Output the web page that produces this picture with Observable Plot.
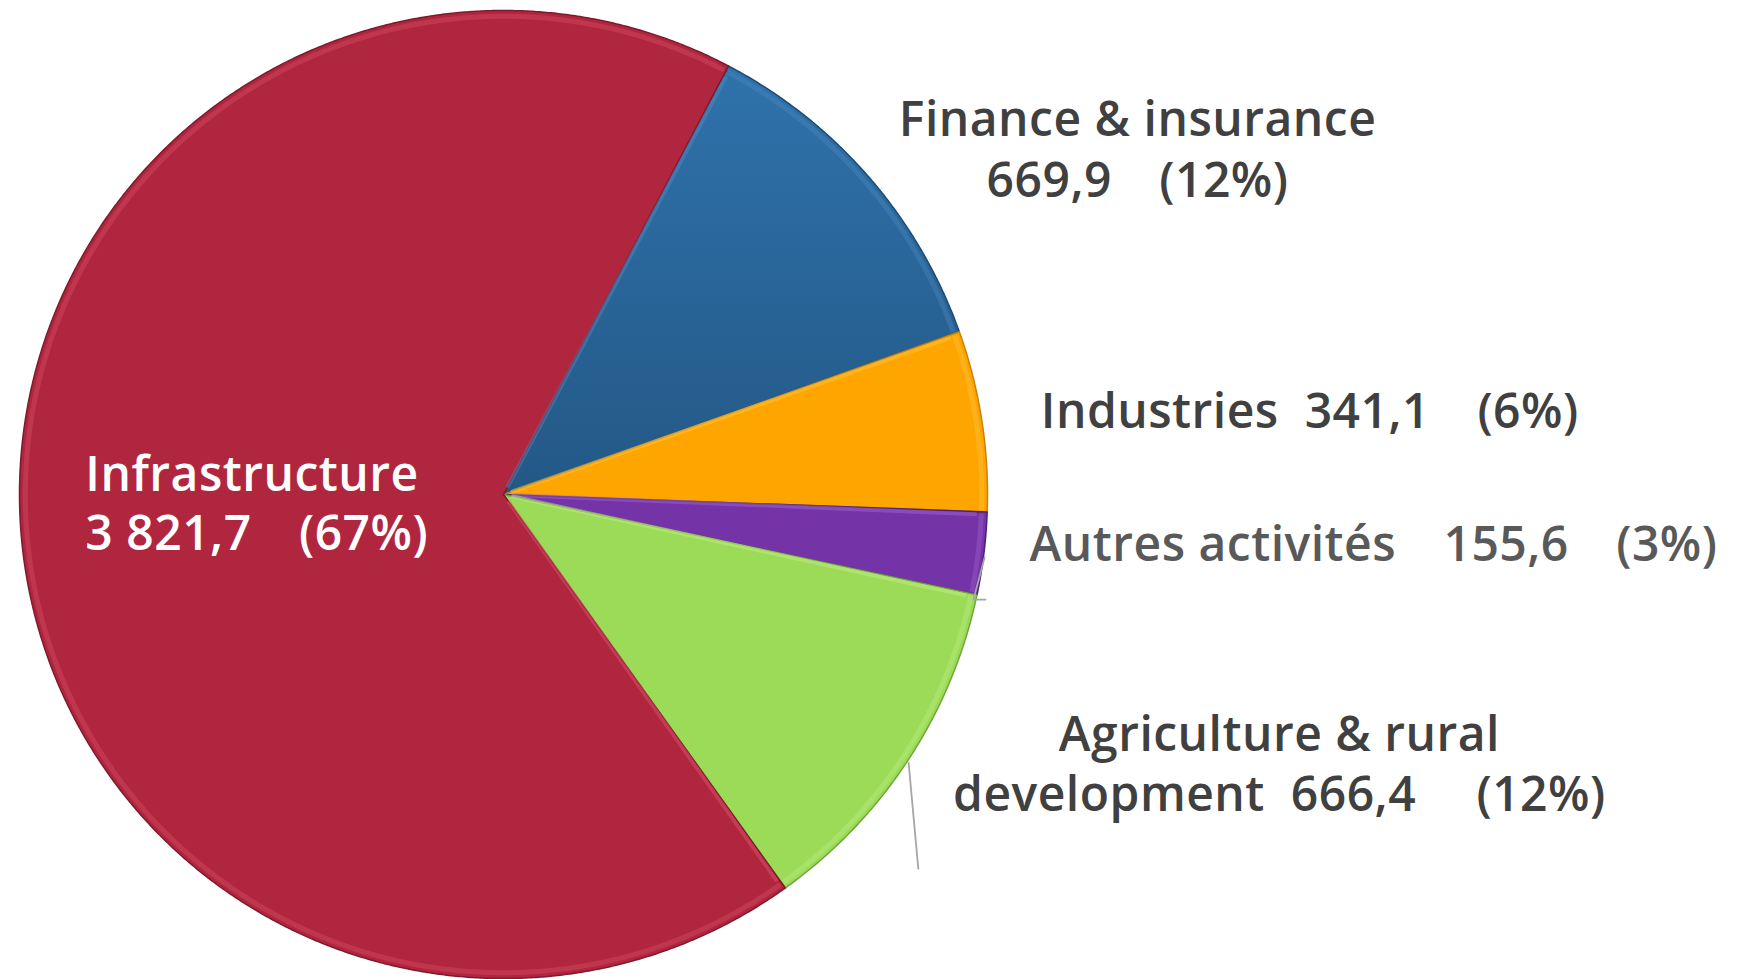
<!DOCTYPE html>
<html>
<head>
<meta charset="utf-8">
<script src="https://cdn.jsdelivr.net/npm/d3@7"></script>
<script src="https://cdn.jsdelivr.net/npm/@observablehq/plot@0.6"></script>
<style>
  html, body { margin: 0; padding: 0; background: #ffffff; }
  #chart svg { display: block; }
  #chart text { white-space: pre; letter-spacing: 0.5px; }
</style>
</head>
<body>
<div id="chart"></div>
<script>
// ---- data ----
const sectors = ["Finance & insurance", "Industries", "Autres activités", "Agriculture & rural development", "Infrastructure"];
const values = [669.9, 341.1, 155.6, 666.4, 3821.7];
const percents = [12, 6, 3, 12, 67];
const colors = ["url(#gradBlue)", "#fea500", "#7433a6", "#9cdb58", "#b0263e"];
const edgeColors = ["#1d4a72", "#c98200", "#4f1f78", "#6fa63a", "#7e1a2c"];
const rimColors = ["#4f8cc4", "#ffc84a", "#a46ad8", "#c3f08a", "#e0566e"];

// label text lines (built from the values), with their anchor in pie-radius units
const numFmt = d3.formatLocale({decimal: ",", thousands: "\u00a0", grouping: [3]}).format(",.1f");
const S = n => "\u00a0".repeat(n);
const G = S(3) + "\u2009"; // wide gap
const labelLines = [
  {text: "Finance & insurance", x: 1.310, y: 0.773, anchor: "middle", fill: "#404040"},
  {text: numFmt(values[0]) + G + "(" + percents[0] + "%)", x: 1.310, y: 0.647, anchor: "middle", fill: "#404040"},
  {text: "Industries" + S(2) + numFmt(values[1]) + G + "(" + percents[1] + "%)", x: 1.110, y: 0.169, anchor: "start", fill: "#404040"},
  {text: "Autres activités" + G + numFmt(values[2]) + G + "(" + percents[2] + "%)", x: 1.087, y: -0.105, anchor: "start", fill: "#595959"},
  {text: "Agriculture & rural", x: 1.603, y: -0.498, anchor: "middle", fill: "#404040"},
  {text: "development" + S(2) + numFmt(values[3]) + S(4) + "\u2009" + "(" + percents[3] + "%)", x: 1.603, y: -0.622, anchor: "middle", fill: "#404040"},
  {text: "Infrastructure", x: -0.864, y: 0.039, anchor: "start", fill: "#ffffff"},
  {text: numFmt(values[4]) + G + "(" + percents[4] + "%)", x: -0.864, y: -0.083, anchor: "start", fill: "#ffffff"}
];
const leaders = [
  {id: "agri", pts: [[0.837, -0.554], [0.857, -0.773]]},
  {id: "autres", pts: [[0.994, -0.130], [0.971, -0.217], [0.996, -0.217]]}
];

// ---- layout ----
const W = 1747, H = 979;
const CX = 503, CY = 494, R = 484;
const startAngle = 27.7 * Math.PI / 180;

const pie = d3.pie().sort(null).value(d => d.value).startAngle(startAngle).endAngle(startAngle + 2 * Math.PI);
const arcs = pie(sectors.map((s, i) => ({sector: s, value: values[i], i})));

// polygon points for each slice (clockwise from north)
const slicePts = [];
const rimPts = [];
for (const a of arcs) {
  const i = a.data.i;
  slicePts.push({k: i, x: 0, y: 0, fill: colors[i], edge: edgeColors[i]});
  const n = Math.max(4, Math.ceil((a.endAngle - a.startAngle) / 0.005));
  for (let j = 0; j <= n; j++) {
    const t = a.startAngle + (a.endAngle - a.startAngle) * j / n;
    slicePts.push({k: i, x: Math.sin(t), y: Math.cos(t), fill: colors[i], edge: edgeColors[i]});
    const rr = 0.988;
    const t2 = a.startAngle + 0.004 + (a.endAngle - a.startAngle - 0.008) * j / n;
    rimPts.push({k: i, x: rr * Math.sin(t2), y: rr * Math.cos(t2), c: rimColors[i]});
  }
}
// light highlight along the leading radial edge of each slice
const edgePts = [];
for (const a of arcs) {
  const i = a.data.i;
  const t = a.startAngle + 0.006;
  edgePts.push({k: i, x: 0.02 * Math.sin(t), y: 0.02 * Math.cos(t), c: rimColors[i]});
  edgePts.push({k: i, x: 0.975 * Math.sin(t), y: 0.975 * Math.cos(t), c: rimColors[i]});
}
const leaderPts = leaders.flatMap(l => l.pts.map(p => ({k: l.id, x: p[0], y: p[1]})));

const chart = Plot.plot({
  width: W,
  height: H,
  margin: 0,
  x: {domain: [(0 - CX) / R, (W - CX) / R], range: [0, W], axis: null},
  y: {domain: [(CY - H) / R, CY / R], range: [H, 0], axis: null},
  color: {type: "identity"},
  style: {background: "#ffffff", fontFamily: "'Open Sans', 'Noto Sans', sans-serif"},
  marks: [
    Plot.line(slicePts, {x: "x", y: "y", z: "k", fill: "fill", stroke: "edge", strokeWidth: 1.5, curve: "linear-closed"}),
    Plot.line(rimPts, {x: "x", y: "y", z: "k", stroke: "c", strokeWidth: 5, strokeOpacity: 0.35, strokeLinecap: "butt"}),
    Plot.line(edgePts, {x: "x", y: "y", z: "k", stroke: "c", strokeWidth: 4, strokeOpacity: 0.45}),
    Plot.line(leaderPts, {x: "x", y: "y", z: "k", stroke: "#a6a6a6", strokeWidth: 1.8}),
    Plot.text(labelLines.filter(d => d.anchor === "start"), {x: "x", y: "y", text: "text", fill: "fill", textAnchor: "start", fontSize: 48, fontWeight: 600}),
    Plot.text(labelLines.filter(d => d.anchor === "middle"), {x: "x", y: "y", text: "text", fill: "fill", textAnchor: "middle", fontSize: 48, fontWeight: 600})
  ]
});

// gradient used by the Finance slice
const ns = "http://www.w3.org/2000/svg";
const defs = document.createElementNS(ns, "defs");
defs.innerHTML = `<linearGradient id="gradBlue" x1="0" y1="0" x2="0" y2="1">
  <stop offset="0" stop-color="#2f72ab"/>
  <stop offset="1" stop-color="#235886"/>
</linearGradient>`;
chart.insertBefore(defs, chart.firstChild);

document.getElementById("chart").appendChild(chart);
</script>
</body>
</html>
